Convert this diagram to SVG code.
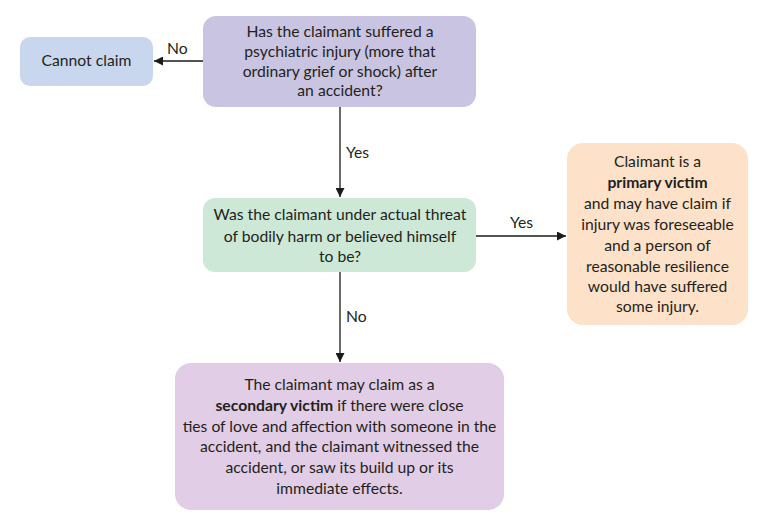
<svg xmlns="http://www.w3.org/2000/svg" width="776" height="528" viewBox="0 0 776 528">
<style>
.t{font-family:Lato,"Liberation Sans",sans-serif;font-size:15.7px;fill:#231f20;text-anchor:middle}
.b{font-weight:bold}
.l{font-family:Lato,"Liberation Sans",sans-serif;font-size:15.7px;fill:#231f20}
.c{stroke:#1a1a1a;stroke-width:1.3;fill:none}
</style>
<defs>
<marker id="ah" viewBox="0 0 10 10" refX="10" refY="5" markerWidth="9" markerHeight="9" markerUnits="userSpaceOnUse" orient="auto">
<path d="M0,0 L10,5 L0,10 z" fill="#1a1a1a"/>
</marker>
</defs>
<rect width="776" height="528" fill="#ffffff"/>
<g id="connectors">
<line class="c" x1="203" y1="61" x2="154" y2="61" marker-end="url(#ah)"/>
<text class="l" x="167" y="54">No</text>
<line class="c" x1="340" y1="107" x2="340" y2="197" marker-end="url(#ah)"/>
<text class="l" x="346" y="158">Yes</text>
<line class="c" x1="476" y1="236" x2="566" y2="236" marker-end="url(#ah)"/>
<text class="l" x="510" y="228">Yes</text>
<line class="c" x1="340" y1="272" x2="340" y2="362" marker-end="url(#ah)"/>
<text class="l" x="346" y="322">No</text>
</g>
<g id="cannot-claim">
<rect x="20" y="37" width="133" height="49" rx="10" fill="#c9d7ee"/>
<text class="t" x="86.5" y="66">Cannot claim</text>
</g>
<g id="q1">
<rect x="203" y="16" width="273" height="91" rx="13" fill="#c9c4e1"/>
<text class="t" x="340" y="37">Has the claimant suffered a</text>
<text class="t" x="340" y="57">psychiatric injury (more that</text>
<text class="t" x="340" y="77">ordinary grief or shock) after</text>
<text class="t" x="340" y="96">an accident?</text>
</g>
<g id="q2">
<rect x="203" y="198" width="273" height="74" rx="12" fill="#cde8d7"/>
<text class="t" x="340" y="220">Was the claimant under actual threat</text>
<text class="t" x="340" y="242">of bodily harm or believed himself</text>
<text class="t" x="340" y="262">to be?</text>
</g>
<g id="primary">
<rect x="567" y="143" width="181" height="182" rx="16" fill="#fde1c8"/>
<text class="t" x="657.5" y="167">Claimant is a</text>
<text class="t b" x="657.5" y="188">primary victim</text>
<text class="t" x="657.5" y="209">and may have claim if</text>
<text class="t" x="657.5" y="230">injury was foreseeable</text>
<text class="t" x="657.5" y="251">and a person of</text>
<text class="t" x="657.5" y="272">reasonable resilience</text>
<text class="t" x="657.5" y="292">would have suffered</text>
<text class="t" x="657.5" y="312">some injury.</text>
</g>
<g id="secondary">
<rect x="175" y="363" width="329" height="147" rx="16" fill="#e1cde5"/>
<text class="t" x="339.5" y="390">The claimant may claim as a</text>
<text class="t" x="339.5" y="411"><tspan class="b">secondary victim</tspan> if there were close</text>
<text class="t" x="339.5" y="432">ties of love and affection with someone in the</text>
<text class="t" x="339.5" y="452">accident, and the claimant witnessed the</text>
<text class="t" x="339.5" y="473">accident, or saw its build up or its</text>
<text class="t" x="339.5" y="494">immediate effects.</text>
</g>
</svg>
